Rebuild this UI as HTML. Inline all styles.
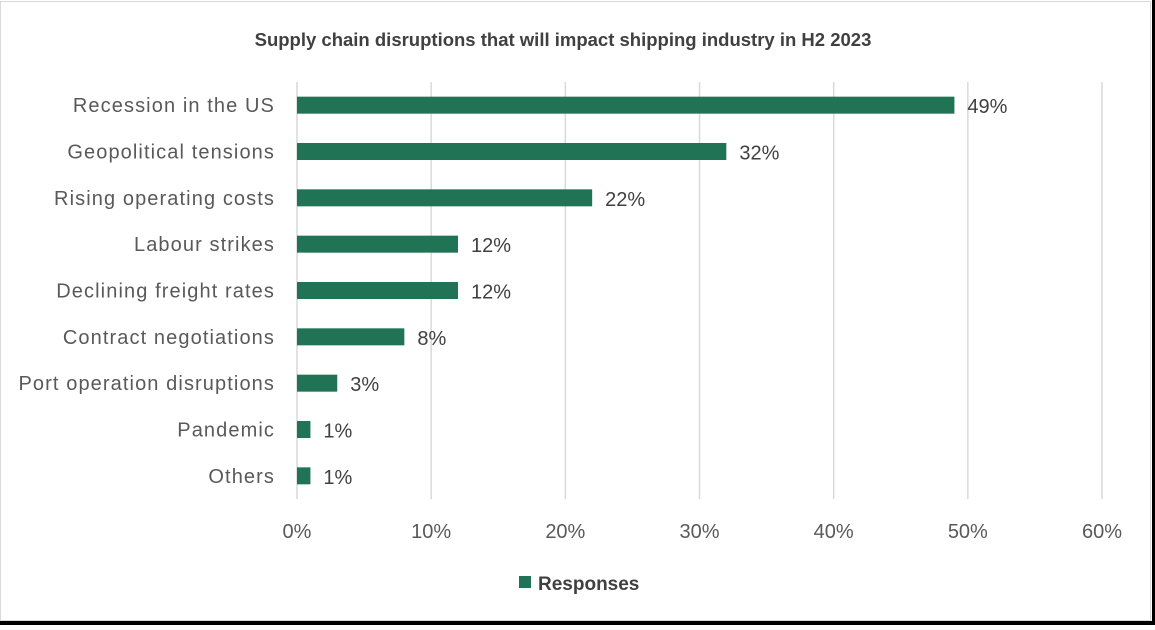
<!DOCTYPE html>
<html><head><meta charset="utf-8"><style>
html,body{margin:0;padding:0;background:#fff;}
body{width:1155px;height:625px;position:relative;overflow:hidden;font-family:"Liberation Sans",sans-serif;}
</style></head><body>
<svg width="1155" height="625" xmlns="http://www.w3.org/2000/svg">
<rect x="0" y="0" width="1155" height="625" fill="#fff"/>
<rect x="0.5" y="1.5" width="1150" height="619" fill="none" stroke="#d9d9d9"/>
<rect x="0" y="621" width="1155" height="4" fill="#000"/>
<rect x="1152" y="0" width="3" height="625" fill="#000"/>
<text x="563" y="46" text-anchor="middle" font-size="18.5" font-weight="bold" fill="#404040">Supply chain disruptions that will impact shipping industry in H2 2023</text>
<g id="grid"></g><g id="bars"></g><g id="labels"></g>
<rect x="519" y="576" width="12" height="12" fill="#217356"/>
<text x="538" y="590" font-size="19" font-weight="bold" fill="#404040">Responses</text>
</svg>
<script>
const categories=["Recession in the US","Geopolitical tensions","Rising operating costs","Labour strikes","Declining freight rates","Contract negotiations","Port operation disruptions","Pandemic","Others"];
const values=[49,32,22,12,12,8,3,1,1];
const ticks=[0,10,20,30,40,50,60];
const NS="http://www.w3.org/2000/svg";
const x0=297,x1=1102,yTop=82,yBot=499,xmax=60;
const xs=v=>x0+(x1-x0)*v/xmax;
const band=(yBot-yTop)/categories.length;
const yc=i=>yTop+band*(i+0.5);
function mk(t,a,p){const e=document.createElementNS(NS,t);for(const k in a)e.setAttribute(k,a[k]);p.appendChild(e);return e;}
const g=document.getElementById('grid'),b=document.getElementById('bars'),l=document.getElementById('labels');
ticks.forEach(t=>{
 const ln=mk('line',{x1:xs(t),x2:xs(t),y1:yTop,y2:yBot,stroke:'#d9d9d9','stroke-width':1.5},g);
 
 
 const tx=mk('text',{x:xs(t),y:538,'text-anchor':'middle','font-size':20,fill:'#595959'},l);
 tx.textContent=t+'%';
 
 
});
categories.forEach((c,i)=>{
 const y=yc(i);
 const r=mk('rect',{x:x0,y:y-8.5,width:xs(values[i])-x0,height:17,fill:'#217356'},b);
 
 
 const cl=mk('text',{x:275,y:y+7,'text-anchor':'end','font-size':20,'letter-spacing':1.1,fill:'#595959'},l);
 cl.textContent=c;
 
 
 const vl=mk('text',{x:xs(values[i])+13,y:y+8,'font-size':20,fill:'#404040'},l);
 vl.textContent=values[i]+'%';
 
 
});
</script>
</body></html>
